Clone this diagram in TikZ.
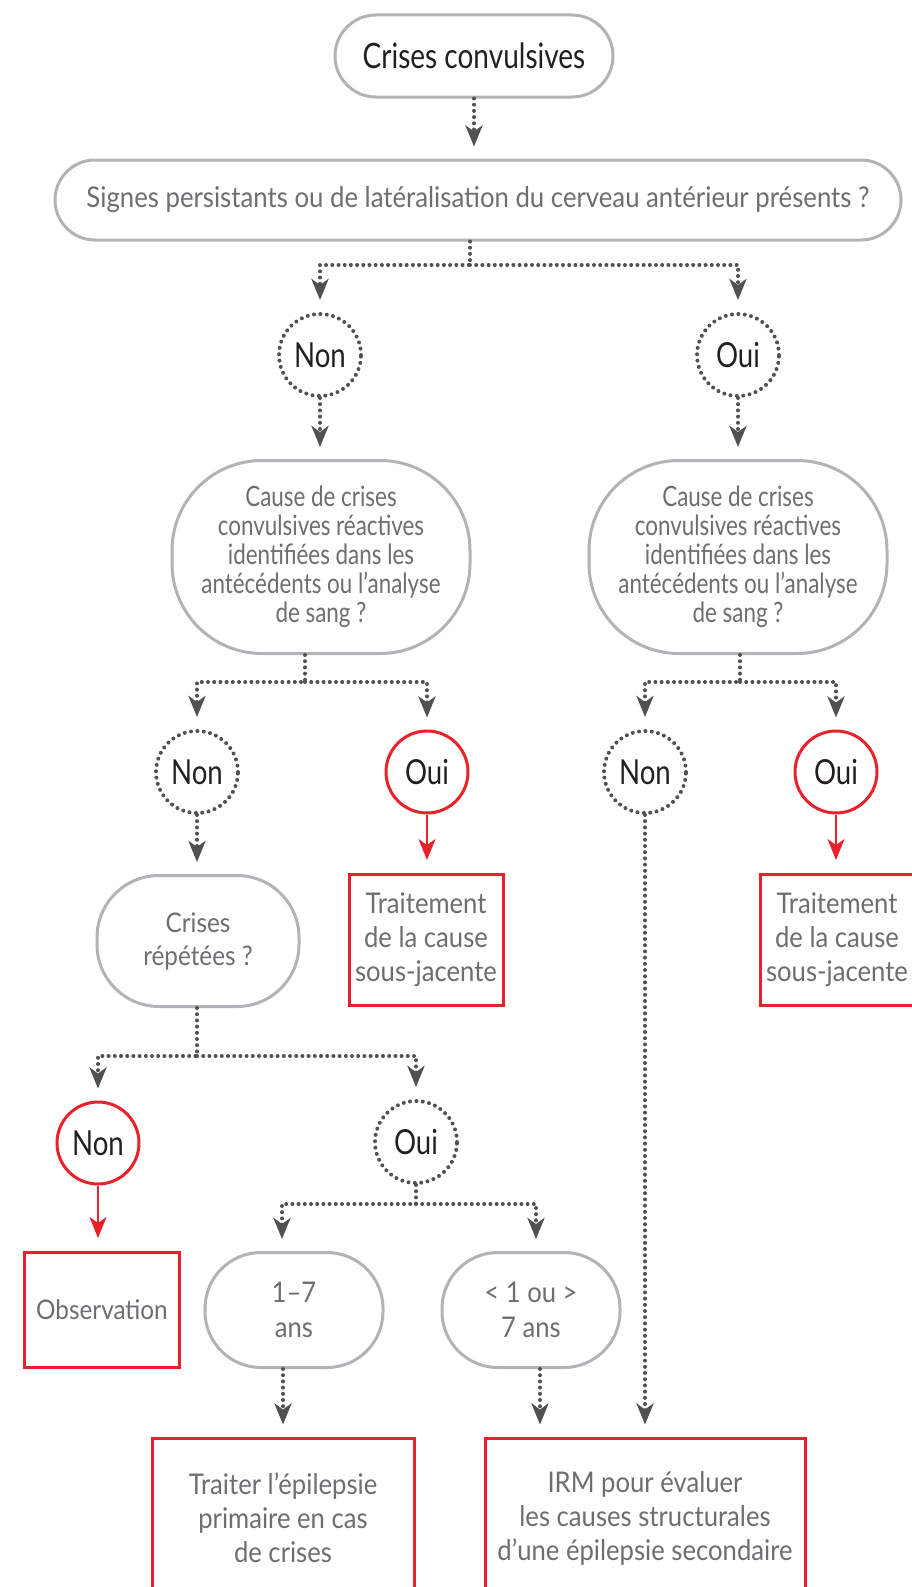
\documentclass[tikz,border=0pt]{standalone}
\usepackage{fontspec}
\setmainfont{Lato}
\newfontfamily\narrowfont[FakeStretch=0.8]{Lato}
\newfontfamily\plainfont[FakeStretch=0.9]{Lato}
\usepackage{xcolor}
\definecolor{textdark}{HTML}{231F20}
\definecolor{textgray}{HTML}{6D6E71}
\definecolor{outline}{HTML}{B1B3B6}
\definecolor{dotgray}{HTML}{505153}
\definecolor{alertred}{HTML}{E8212A}
\usepackage{tikz}
\usetikzlibrary{arrows.meta}

\begin{document}
\begin{tikzpicture}[x=1pt, y=-1pt,
    pill/.style={draw=outline, line width=3pt, fill=white, inner sep=0pt, align=center, text=textgray},
    choice/.style={circle, minimum size=82pt, inner sep=0pt, text=textdark, font=\narrowfont\fontsize{34.5}{36}\selectfont},
    dotchoice/.style={choice, draw=dotgray, line width=4pt, dash pattern=on 0pt off 6.4pt, line cap=round},
    redchoice/.style={choice, draw=alertred, line width=3pt},
    outcome/.style={draw=alertred, line width=3pt, fill=white, inner sep=0pt, align=center, text=textgray, font=\plainfont\fontsize{28.5}{34}\selectfont},
    dotlink/.style={draw=dotgray, line width=4pt, dash pattern=on 0pt off 6.2pt, line cap=round, -{Stealth[length=21pt, width=17pt, inset=6pt]}, shorten >=12pt},
    redlink/.style={draw=alertred, line width=2.5pt, -{Stealth[length=21pt, width=17pt, inset=6pt]}, shorten >=13pt}]
  \useasboundingbox (0,0) rectangle (912,1587);

  % Question nodes
  \node[pill, rounded corners=41pt, minimum width=278pt, minimum height=82pt, text=textdark, font=\narrowfont\fontsize{35}{40}\selectfont] (top) at (474,56) {Crises convulsives};
  \node[pill, rounded corners=40pt, minimum width=846pt, minimum height=80pt, font=\plainfont\fontsize{28.6}{30}\selectfont] (sig) at (478,200) {Signes persistants ou de latéralisation du cerveau antérieur présents ?};
  \node[pill, rounded corners=90pt, minimum width=298pt, minimum height=193pt, font=\narrowfont\fontsize{28}{29}\selectfont] (cause1) at (321,557) {Cause de crises\\convulsives réactives\\identifiées dans les\\antécédents ou l’analyse\\de sang ?};
  \node[pill, rounded corners=90pt, minimum width=298pt, minimum height=193pt, font=\narrowfont\fontsize{28}{29}\selectfont] (cause2) at (738,557) {Cause de crises\\convulsives réactives\\identifiées dans les\\antécédents ou l’analyse\\de sang ?};
  \node[pill, rounded corners=62pt, minimum width=202pt, minimum height=131pt, font=\plainfont\fontsize{27}{33}\selectfont] (rep) at (198,941) {Crises\\répétées ?};
  \node[pill, rounded corners=56pt, minimum width=178pt, minimum height=115pt, font=\plainfont\fontsize{28.5}{35}\selectfont] (age1) at (294,1310) {1–7\\ans};
  \node[pill, rounded corners=56pt, minimum width=178pt, minimum height=115pt, font=\plainfont\fontsize{28.5}{35}\selectfont] (age2) at (531,1310) {< 1 ou >\\7 ans};

  % Answers
  \node[dotchoice] (non1) at (320,355) {Non};
  \node[dotchoice] (oui1) at (738,355) {Oui};
  \node[dotchoice] (non2) at (197,772) {Non};
  \node[redchoice] (oui2) at (427,772) {Oui};
  \node[dotchoice] (non3) at (645,772) {Non};
  \node[redchoice] (oui3) at (836,772) {Oui};
  \node[redchoice] (non4) at (98,1143) {Non};
  \node[dotchoice] (oui4) at (416,1142) {Oui};

  % Outcomes
  \node[outcome, minimum width=154pt, minimum height=131pt] (treat1) at (426,940) {Traitement\\de la cause\\sous-jacente};
  \node[outcome, minimum width=154pt, minimum height=131pt] (treat2) at (837,940) {Traitement\\de la cause\\sous-jacente};
  \node[outcome, minimum width=155pt, minimum height=115pt, font=\plainfont\fontsize{27}{34}\selectfont] (obs) at (102,1310) {Observation};
  \node[outcome, minimum width=262pt, minimum height=160pt] (epi) at (283,1518) {Traiter l’épilepsie\\primaire en cas\\de crises};
  \node[outcome, minimum width=320pt, minimum height=160pt] (irm) at (645,1518) {IRM pour évaluer\\les causes structurales\\d’une épilepsie secondaire};

  % Branch points
  \coordinate (j1) at (470,265);
  \coordinate (j2) at (305,682);
  \coordinate (j3) at (740,682);
  \coordinate (j4) at (197,1056);
  \coordinate (j5) at (416,1204);

  % Connectors
  \draw[dotlink] (top.south) -- (top.south |- sig.north);
  \draw[dotlink] (j1 |- sig.south) -- (j1) -| (non1);
  \draw[dotlink] (j1) -| (oui1);
  \draw[dotlink] (non1.south) -- (non1.south |- cause1.north);
  \draw[dotlink] (oui1.south) -- (oui1.south |- cause2.north);
  \draw[dotlink] (j2 |- cause1.south) -- (j2) -| (non2);
  \draw[dotlink] (j2) -| (oui2);
  \draw[dotlink] (j3 |- cause2.south) -- (j3) -| (non3);
  \draw[dotlink] (j3) -| (oui3);
  \draw[redlink] (oui2.south) -- (oui2.south |- treat1.north);
  \draw[redlink] (oui3.south) -- (oui3.south |- treat2.north);
  \draw[dotlink] (non2.south) -- (non2.south |- rep.north);
  \draw[dotlink] (j4 |- rep.south) -- (j4) -| (non4);
  \draw[dotlink] (j4) -| (oui4);
  \draw[redlink] (non4.south) -- (non4.south |- obs.north);
  \draw[dotlink] (oui4.south) -- (j5) -| ([xshift=-12pt]age1.north);
  \draw[dotlink] (j5) -| ([xshift=5pt]age2.north);
  \draw[dotlink] ([xshift=-11pt]age1.south) -- ([xshift=-11pt]age1.south |- epi.north);
  \draw[dotlink] ([xshift=9pt]age2.south) -- ([xshift=9pt]age2.south |- irm.north);
  \draw[dotlink] (non3.south) -- (non3.south |- irm.north);
\end{tikzpicture}
\end{document}
